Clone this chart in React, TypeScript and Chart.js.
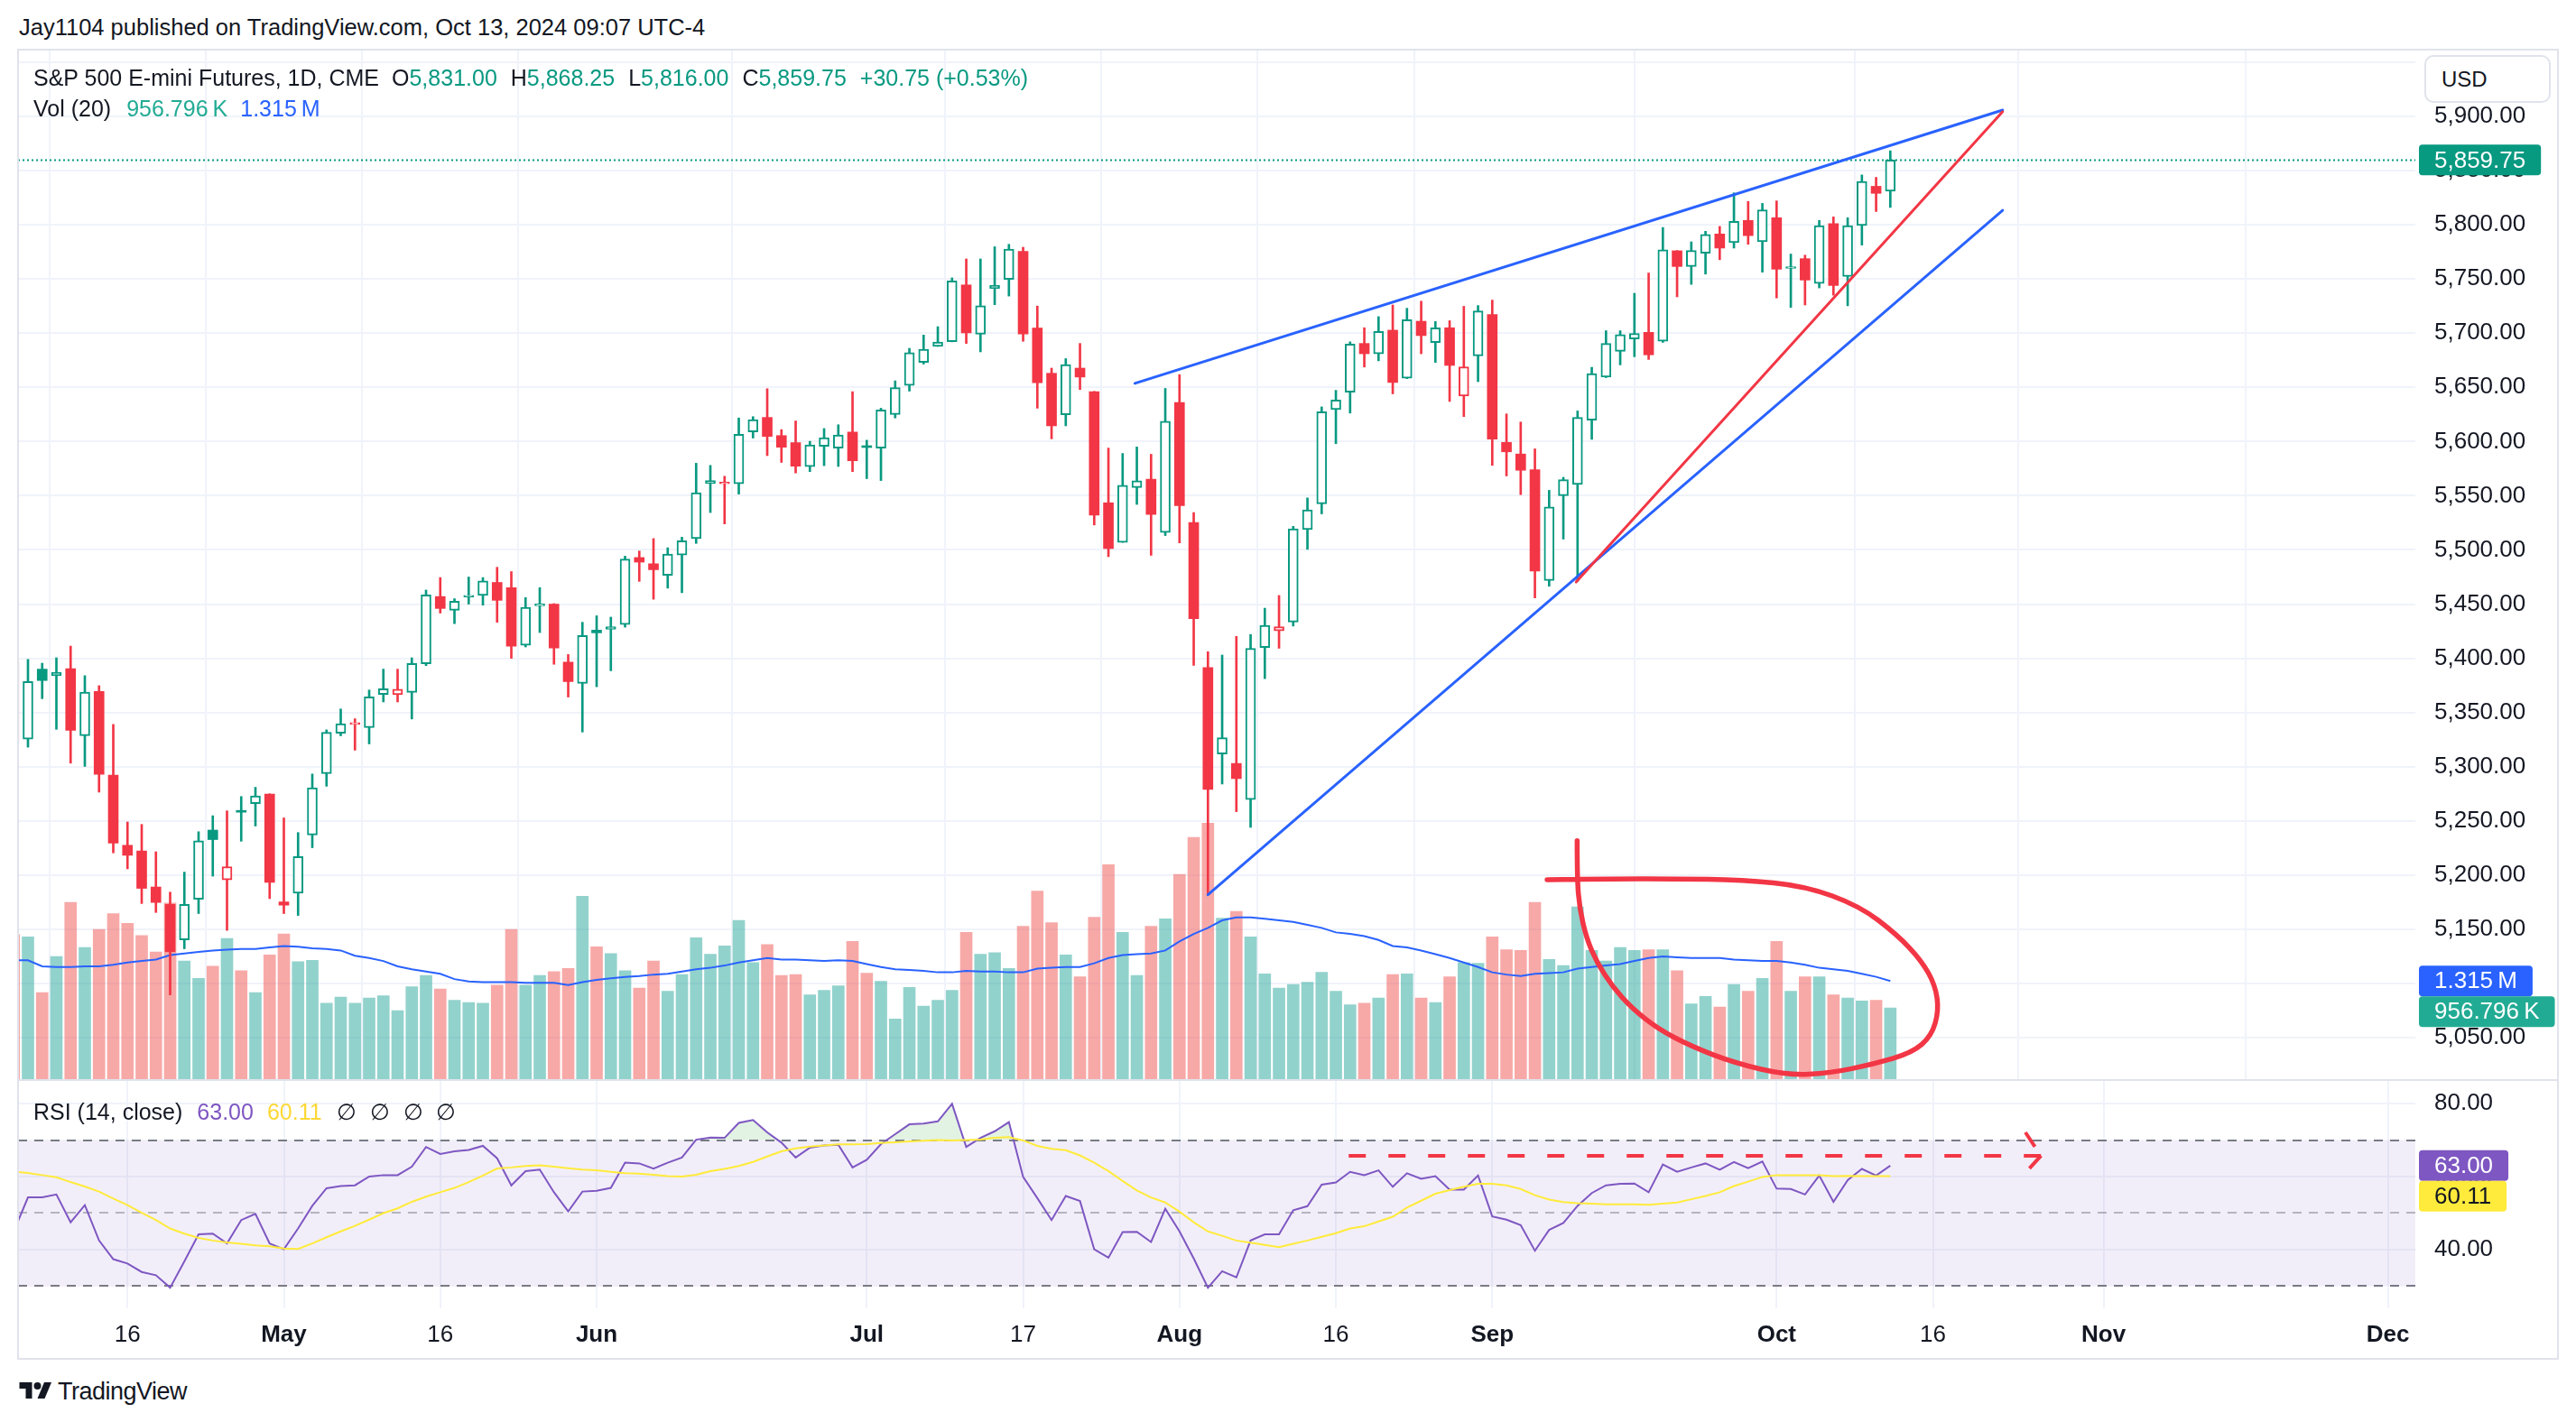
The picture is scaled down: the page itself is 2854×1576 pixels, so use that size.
import React, { useEffect, useRef } from 'react';
import { Chart, registerables } from 'chart.js';

Chart.register(...registerables);

const FONT = "'Liberation Sans', Arial, Helvetica, sans-serif";
const UP = '#089981';
const DOWN = '#F23645';
const TEXT = '#131722';
const GRID = '#F0F3FA';
const FRAME = '#E0E3EB';
const BLUE = '#2962FF';
const VOL_TEAL = '#22AB94';
const RSI_PURPLE = '#7E57C2';
const RSI_YELLOW = '#FFEB3B';

const publishedText = 'Jay1104 published on TradingView.com, Oct 13, 2024 09:07 UTC-4';
const symbolTitle = 'S&P 500 E-mini Futures, 1D, CME';
const volTitle = 'Vol (20)';
const rsiTitle = 'RSI (14, close)';

// ---- data (one entry per daily bar) ----
const dates = [
  '2024-04-04','2024-04-05','2024-04-08','2024-04-09','2024-04-10','2024-04-11','2024-04-12','2024-04-15','2024-04-16','2024-04-17',
  '2024-04-18','2024-04-19','2024-04-22','2024-04-23','2024-04-24','2024-04-25','2024-04-26','2024-04-29','2024-04-30','2024-05-01',
  '2024-05-02','2024-05-03','2024-05-06','2024-05-07','2024-05-08','2024-05-09','2024-05-10','2024-05-13','2024-05-14','2024-05-15',
  '2024-05-16','2024-05-17','2024-05-20','2024-05-21','2024-05-22','2024-05-23','2024-05-24','2024-05-28','2024-05-29','2024-05-30',
  '2024-05-31','2024-06-03','2024-06-04','2024-06-05','2024-06-06','2024-06-07','2024-06-10','2024-06-11','2024-06-12','2024-06-13',
  '2024-06-14','2024-06-17','2024-06-18','2024-06-20','2024-06-21','2024-06-24','2024-06-25','2024-06-26','2024-06-27','2024-06-28',
  '2024-07-01','2024-07-02','2024-07-03','2024-07-05','2024-07-08','2024-07-09','2024-07-10','2024-07-11','2024-07-12','2024-07-15',
  '2024-07-16','2024-07-17','2024-07-18','2024-07-19','2024-07-22','2024-07-23','2024-07-24','2024-07-25','2024-07-26','2024-07-29',
  '2024-07-30','2024-07-31','2024-08-01','2024-08-02','2024-08-05','2024-08-06','2024-08-07','2024-08-08','2024-08-09','2024-08-12',
  '2024-08-13','2024-08-14','2024-08-15','2024-08-16','2024-08-19','2024-08-20','2024-08-21','2024-08-22','2024-08-23','2024-08-26',
  '2024-08-27','2024-08-28','2024-08-29','2024-08-30','2024-09-03','2024-09-04','2024-09-05','2024-09-06','2024-09-09','2024-09-10',
  '2024-09-11','2024-09-12','2024-09-13','2024-09-16','2024-09-17','2024-09-18','2024-09-19','2024-09-20','2024-09-23','2024-09-24',
  '2024-09-25','2024-09-26','2024-09-27','2024-09-30','2024-10-01','2024-10-02','2024-10-03','2024-10-04','2024-10-07','2024-10-08',
  '2024-10-09','2024-10-10','2024-10-11',
];

const open = [
  5397, 5325.5, 5390, 5384, 5390.5, 5328.5, 5369.5, 5292.25, 5227.5, 5222.25,
  5189, 5173, 5140.25, 5177.75, 5241.5, 5195.5, 5259.5, 5266, 5274.75, 5175.25,
  5183.25, 5237, 5293.5, 5330.75, 5339, 5336, 5366.75, 5366.5, 5368.5, 5395,
  5457, 5444.25, 5456.5, 5458, 5470, 5465.25, 5412, 5448.5, 5450, 5396.5,
  5376.75, 5426, 5426.75, 5431.25, 5493, 5487.25, 5476.5, 5495.25, 5510.5, 5561.25,
  5561, 5561, 5609, 5622.25, 5605.5, 5599, 5576.75, 5595.5, 5594, 5608.75,
  5595, 5594, 5625, 5651.75, 5673, 5687.75, 5692.25, 5744.5, 5699, 5741.25,
  5749.5, 5775.5, 5704.75, 5663, 5624.75, 5667.75, 5646, 5543.5, 5507, 5557.5,
  5565.25, 5516, 5636, 5525.25, 5391.5, 5311.75, 5303, 5269.75, 5410, 5425.25,
  5433.5, 5518.75, 5542.5, 5629.5, 5645.5, 5690.5, 5681, 5702.75, 5658.5, 5711,
  5691.25, 5705, 5642, 5679, 5717.25, 5599.25, 5588.5, 5574, 5471.75, 5550,
  5560.5, 5619.75, 5659.5, 5683.25, 5694.75, 5700.75, 5692.5, 5776, 5761.5, 5773.75,
  5791.5, 5783.5, 5804, 5784.25, 5806.5, 5759.75, 5768.75, 5745.75, 5801, 5752.25,
  5799.25, 5835.5, 5831,
];

const high = [
  5405, 5399, 5395.5, 5400.5, 5411.25, 5384, 5374.75, 5339, 5249, 5246.75,
  5221.5, 5184.25, 5202.75, 5240, 5254.75, 5259.25, 5272.5, 5281, 5275, 5252.75,
  5239.25, 5293.25, 5334, 5353.25, 5344.25, 5370.75, 5390, 5390, 5400.5, 5463,
  5474.5, 5455, 5475, 5474.5, 5484, 5480, 5456, 5465.25, 5450.5, 5403.5,
  5433.25, 5439.25, 5438, 5494.25, 5499, 5510.5, 5502, 5511.75, 5580, 5578,
  5568, 5621.75, 5623, 5648.75, 5611, 5619, 5600.25, 5612, 5615.5, 5646,
  5601.25, 5630.75, 5656, 5686, 5698.25, 5706, 5751, 5768.5, 5768.5, 5779.75,
  5782, 5779.25, 5725, 5667.75, 5676.5, 5690.5, 5646.25, 5594, 5589, 5595,
  5588.25, 5649, 5661.75, 5534.5, 5406, 5403, 5420.25, 5422, 5446.25, 5458,
  5521.75, 5548, 5632, 5647.25, 5692, 5705, 5715.25, 5726, 5723, 5729.5,
  5710.75, 5711.5, 5724.75, 5725.5, 5730.5, 5625.5, 5618, 5593.25, 5555, 5567,
  5628.25, 5668.5, 5702.25, 5702.25, 5736.75, 5755.5, 5797.5, 5776.25, 5784.25, 5794,
  5798.5, 5829.5, 5821.5, 5819.75, 5822, 5773, 5772, 5804, 5807.25, 5806.5,
  5846, 5843.75, 5868.25,
];

const low = [
  5318, 5318, 5362.75, 5334.5, 5303.25, 5300.25, 5276.5, 5220.5, 5205.75, 5173.75,
  5165.5, 5089.5, 5132, 5164.5, 5199, 5149, 5231.25, 5245.25, 5178.25, 5164.5,
  5162.75, 5225.25, 5282, 5328.5, 5315.25, 5321, 5359.75, 5359.75, 5344, 5393.25,
  5441.75, 5432, 5450, 5449, 5433.25, 5400, 5410.5, 5423.75, 5394.5, 5364.25,
  5332, 5373.75, 5388.5, 5428.75, 5471, 5454.5, 5464.75, 5460.5, 5506, 5534.5,
  5524, 5551.5, 5603.25, 5587, 5580.75, 5571, 5572.25, 5577.75, 5577, 5572.25,
  5565.75, 5564, 5621.75, 5646.5, 5671.5, 5687.75, 5692, 5690.5, 5682.75, 5726.25,
  5734.25, 5692.5, 5630.75, 5602.5, 5614.5, 5648, 5523, 5493.75, 5507, 5542,
  5495, 5513.25, 5506.5, 5393.5, 5182, 5284, 5258.5, 5244, 5381.25, 5409.25,
  5429.75, 5500.5, 5533.25, 5598, 5626.25, 5668.75, 5674.5, 5644, 5658, 5681,
  5673, 5637, 5623, 5655.25, 5578, 5568.25, 5551, 5455.75, 5466.5, 5510,
  5471, 5602, 5659, 5670.75, 5678.25, 5675.75, 5691.5, 5733.5, 5745, 5754.5,
  5767.75, 5778.5, 5782, 5756.25, 5732.5, 5723.75, 5726, 5741.75, 5735, 5725.25,
  5781.25, 5812.25, 5816,
];

const close = [
  5323, 5378.5, 5379.5, 5387, 5333.5, 5368.75, 5293, 5229.5, 5218.25, 5187.75,
  5174.75, 5129.25, 5173, 5231.75, 5232.75, 5207.75, 5258, 5273, 5193.25, 5172.25,
  5217, 5280.5, 5331.75, 5339.75, 5339.5, 5364.5, 5372, 5371.5, 5395.25, 5458.5,
  5446, 5452.75, 5457.5, 5471.5, 5453.5, 5411.25, 5447, 5449.5, 5409.5, 5378.5,
  5421, 5423.5, 5429.25, 5491.5, 5488.75, 5481.75, 5496.25, 5508.5, 5552.75, 5564,
  5562, 5606.75, 5620.25, 5604.75, 5594.75, 5577.25, 5597, 5603.5, 5606, 5582.25,
  5594.5, 5629.25, 5649.75, 5682, 5685.25, 5691.75, 5748.25, 5700.25, 5725.25, 5744,
  5777.5, 5699.25, 5654.25, 5614.5, 5671, 5659.5, 5532, 5501.25, 5559.75, 5563.75,
  5532.75, 5618.75, 5540.75, 5436.5, 5279, 5326.75, 5289, 5409.25, 5430.5, 5429.25,
  5519.5, 5537, 5627.5, 5638.25, 5690, 5681, 5701.5, 5654.5, 5712.5, 5697.75,
  5705, 5670.25, 5669, 5720.5, 5602.25, 5590.5, 5573.5, 5480.5, 5539.75, 5564.75,
  5622.25, 5662.75, 5690.5, 5698.75, 5699.75, 5680, 5777, 5761.5, 5776.25, 5791,
  5778.5, 5803.25, 5790, 5813.75, 5759, 5761, 5749, 5799.25, 5744, 5799.25,
  5840, 5829, 5859.75,
];

// volume in thousands of contracts
const volumeK = [
  1930, 1900, 1160, 1640, 2360, 1760, 2000, 2210, 2080, 1920,
  1700, 2350, 1580, 1350, 1510, 1880, 1450, 1160, 1660, 1940,
  1570, 1590, 1020, 1100, 1020, 1090, 1120, 920, 1240, 1390,
  1210, 1060, 1030, 1020, 1260, 2000, 1260, 1390, 1440, 1480,
  2440, 1770, 1680, 1450, 1220, 1580, 1180, 1400, 1890, 1670,
  1780, 2120, 1560, 1800, 1390, 1400, 1130, 1190, 1250, 1840,
  1420, 1310, 810, 1230, 980, 1060, 1190, 1960, 1670, 1690,
  1480, 2040, 2510, 2090, 1660, 1370, 2160, 2860, 1960, 1390,
  2040, 2140, 2730, 3220, 3410, 2150, 2240, 1900, 1410, 1220,
  1270, 1300, 1430, 1180, 1000, 1020, 1090, 1400, 1410, 1090,
  1030, 1370, 1560, 1550, 1900, 1730, 1720, 2360, 1600, 1520,
  2300, 1720, 1580, 1760, 1720, 1730, 1730, 1450, 1010, 1110,
  970, 1270, 1180, 1350, 1840, 1180, 1370, 1370, 1130, 1090,
  1050, 1060, 956.796,
];

// 20-day volume moving average (thousands)
const volumeMAK = [
  1590, 1590, 1510, 1500, 1500, 1510, 1510, 1530, 1560, 1580,
  1600, 1660, 1680, 1700, 1720, 1730, 1740, 1740, 1760, 1780,
  1770, 1750, 1740, 1720, 1650, 1620, 1580, 1510, 1470, 1440,
  1410, 1340, 1310, 1300, 1300, 1300, 1290, 1290, 1290, 1260,
  1300, 1330, 1350, 1370, 1380, 1400, 1410, 1440, 1470, 1490,
  1520, 1560, 1590, 1620, 1600, 1600, 1590, 1580, 1590, 1580,
  1540, 1500, 1470, 1460, 1450, 1430, 1430, 1450, 1440, 1440,
  1430, 1430, 1480, 1490, 1500, 1500, 1550, 1620, 1660, 1670,
  1680, 1720, 1840, 1940, 2020, 2120, 2160, 2160, 2140, 2120,
  2100, 2060, 2020, 1960, 1940, 1910, 1860, 1780, 1760, 1720,
  1670, 1620, 1560, 1500, 1430, 1400, 1380, 1410, 1420, 1430,
  1480, 1500, 1520, 1540, 1580, 1620, 1640, 1630, 1620, 1620,
  1620, 1600, 1590, 1580, 1580, 1560, 1530, 1490, 1470, 1450,
  1410, 1370, 1315,
];

const rsi = [
  45.0, 54.3, 54.3, 55.1, 47.5, 52.2, 42.5, 37.4, 36.2, 33.9,
  33.0, 29.6, 36.8, 44.2, 44.4, 41.7, 48.1, 49.8, 41.7, 40.1,
  45.8, 52.0, 56.8, 57.4, 57.6, 60.0, 60.4, 60.4, 62.7, 68.1,
  66.2, 66.9, 67.3, 68.4, 65.0, 57.6, 61.5, 61.9, 55.7, 50.5,
  55.9, 56.1, 56.9, 63.8, 63.6, 62.2, 63.8, 65.2, 70.1, 70.7,
  70.6, 74.7, 75.5, 72.1, 69.3, 65.2, 67.9, 68.5, 68.7, 62.5,
  64.6, 68.9, 71.6, 74.3, 74.5, 75.1, 79.9, 68.1, 70.6, 72.4,
  74.9, 59.9, 54.1, 48.1, 54.7, 53.3, 40.1, 37.8, 44.8, 44.9,
  42.1, 51.2, 45.0, 37.6, 29.6, 34.1, 32.4, 42.5, 44.2, 44.2,
  50.8, 51.9, 57.8, 58.4, 61.3, 60.4, 61.7, 57.2, 60.9, 59.4,
  60.1, 56.4, 56.4, 60.3, 49.1, 48.2, 46.7, 39.7, 45.4, 47.3,
  52.0, 55.5, 57.6, 58.0, 58.1, 55.7, 63.3, 61.3, 62.5, 63.6,
  61.9, 64.0, 62.3, 64.1, 56.7, 56.6, 55.1, 60.3, 53.1, 59.0,
  62.1, 60.3, 63.0,
];

const rsiMA = [
  61.3, 61.0, 60.4, 59.8, 58.5, 57.3, 55.9, 54.0, 52.2, 50.1,
  48.1, 45.8, 44.4, 43.2, 42.5, 42.0, 41.6, 41.2, 40.9, 40.3,
  40.2, 41.7, 43.4, 45.0, 46.5, 48.2, 50.0, 51.3, 53.1, 54.5,
  55.7, 56.9, 58.5, 60.3, 62.2, 62.5, 62.9, 63.1, 62.7, 62.3,
  61.9, 61.7, 61.3, 60.9, 60.8, 60.5, 60.1, 60.0, 60.5, 61.5,
  62.1, 62.9, 64.0, 65.5, 66.9, 67.7, 68.2, 68.5, 68.8, 68.8,
  68.9, 69.2, 69.4, 69.6, 69.8, 70.0, 69.9, 70.0, 70.1, 70.6,
  70.8, 69.9, 68.4, 67.6, 67.2, 65.8, 63.8, 61.5, 58.8, 56.2,
  54.3, 52.9, 50.4, 47.5, 45.0, 43.8, 42.5, 41.9, 41.3, 40.7,
  41.6, 42.5, 43.5, 44.5, 45.8, 46.4, 47.7, 49.0, 51.5, 53.4,
  55.3, 56.3, 57.2, 58.0, 58.0, 57.6, 56.6, 54.9, 53.7, 53.0,
  52.7, 52.6, 52.4, 52.4, 52.4, 52.3, 52.6, 52.9, 53.8, 54.7,
  55.7, 57.4, 58.6, 59.9, 60.4, 60.4, 60.4, 60.4, 60.1, 60.2,
  60.1, 60.1, 60.11,
];

// ---- axis ticks ----
const xTickBars = [8, 19, 30, 41, 60, 71, 82, 93, 104, 124, 135, 147, 167];
const xTickLabels = ['16', 'May', '16', 'Jun', 'Jul', '17', 'Aug', '16', 'Sep', 'Oct', '16', 'Nov', 'Dec'];
const monthLabels = ['May', 'Jun', 'Jul', 'Aug', 'Sep', 'Oct', 'Nov', 'Dec'];
const priceTicks = [5050, 5100, 5150, 5200, 5250, 5300, 5350, 5400, 5450, 5500, 5550, 5600, 5650, 5700, 5750, 5800, 5850, 5900, 5950];
const rsiTicks = [40, 60, 80];
const rsiLevels = [70, 50, 30];

// ---- user drawings, in (bar slot, value) coordinates ----
const upperBlueLine = [[78.86, 5653.7], [139.9, 5905.8]];
const lowerBlueLine = [[84.0, 5181.8], [139.9, 5813.4]];
const redTrendLine = [[109.9, 5470.4], [139.9, 5904.3]];
const freehandLoop = [
  [109.97, 5231.8], [109.97, 5197.1], [110.14, 5169.3], [110.63, 5141.6], [111.36, 5119.4],
  [112.45, 5097.2], [113.79, 5077.7], [115.62, 5058.3], [118.04, 5041.7], [121.08, 5026.5],
  [124.73, 5015.3], [127.77, 5017.3], [130.8, 5025.6], [133.54, 5036.1], [134.9, 5051.7],
  [135.41, 5075.0], [135.16, 5098.3], [134.21, 5120.8], [132.49, 5144.9], [129.83, 5171.6],
  [126.02, 5189.9], [121.57, 5195.7], [116.81, 5196.5], [112.37, 5196.5], [107.86, 5195.7],
];
const rsiArrowLine = [[93.9, 65.7], [142.6, 65.7]];
const rsiArrowHeadTop = [[141.5, 72.1], [142.6, 65.7]];
const rsiArrowHeadBottom = [[142.6, 65.7], [141.5, 61.0]];

// ---- view ranges ----
const X_MIN = 0.302;
const X_MAX = 168.93;
const PRICE_MIN = 5010.9;
const PRICE_MAX = 5961.6;
const VOL_MAX_K = 13680;
const RSI_MIN = 23.95;
const RSI_MAX = 86.42;
const AXIS_W = 158;

const slots = close.map((_, k) => k);
const fmt2 = (v: number) => v.toLocaleString('en-US', { minimumFractionDigits: 2, maximumFractionDigits: 2 });
const fmtVol = (k: number) => (k >= 1000 ? `${(k / 1000).toFixed(3)}\u2009M` : `${k.toFixed(3)}\u2009K`);

const candleColor = slots.map((k) => (close[k] >= (k > 0 ? close[k - 1] : open[k]) ? UP : DOWN));
const hollow = slots.map((k) => close[k] > open[k]);
const volColor = slots.map((k) => (close[k] >= open[k] ? 'rgba(38,166,154,0.5)' : 'rgba(239,83,80,0.5)'));

function zeroPad(s: any) {
  s.paddingTop = 0; s.paddingBottom = 0; s.paddingLeft = 0; s.paddingRight = 0;
}

function rr(ctx: CanvasRenderingContext2D, x: number, y: number, w: number, h: number, r: number) {
  ctx.beginPath();
  ctx.moveTo(x + r, y);
  ctx.arcTo(x + w, y, x + w, y + h, r);
  ctx.arcTo(x + w, y + h, x, y + h, r);
  ctx.arcTo(x, y + h, x, y, r);
  ctx.arcTo(x, y, x + w, y, r);
  ctx.closePath();
}

function drawBadges(ctx: CanvasRenderingContext2D, xLeft: number, items: any[]) {
  const H = 34;
  const sorted = [...items].sort((a, b) => a.y - b.y);
  let prevBottom = -Infinity;
  ctx.save();
  ctx.font = `26px ${FONT}`;
  ctx.textBaseline = 'middle';
  ctx.textAlign = 'left';
  for (const it of sorted) {
    let cy = it.y;
    if (cy - H / 2 < prevBottom) cy = prevBottom + H / 2;
    const w = ctx.measureText(it.text).width + 34;
    ctx.fillStyle = it.bg;
    rr(ctx, xLeft, cy - H / 2, w, H, 4);
    ctx.fill();
    ctx.fillStyle = it.fg;
    ctx.fillText(it.text, xLeft + 17, cy + 1);
    prevBottom = cy + H / 2;
  }
  ctx.restore();
}

function strokePolyline(ctx: CanvasRenderingContext2D, chart: any, pts: number[][], yId: string) {
  const x = chart.scales.x;
  const y = chart.scales[yId];
  ctx.beginPath();
  pts.forEach((p, i) => {
    const px = x.getPixelForValue(p[0]);
    const py = y.getPixelForValue(p[1]);
    if (i === 0) ctx.moveTo(px, py); else ctx.lineTo(px, py);
  });
  ctx.stroke();
}

const mainOverlay = {
  id: 'mainOverlay',
  afterDatasetsDraw(chart: any) {
    const { ctx, chartArea: a, scales } = chart;
    const x = scales.x;
    const y = scales.y;
    ctx.save();
    ctx.beginPath();
    ctx.rect(a.left, a.top, a.right - a.left, a.bottom - a.top);
    ctx.clip();
    // last price line
    const py = Math.round(y.getPixelForValue(close[close.length - 1])) + 0.5;
    ctx.strokeStyle = UP;
    ctx.lineWidth = 2;
    ctx.setLineDash([2, 3]);
    ctx.beginPath();
    ctx.moveTo(a.left, py);
    ctx.lineTo(a.right, py);
    ctx.stroke();
    ctx.setLineDash([]);
    // trend lines
    ctx.lineCap = 'round';
    ctx.lineWidth = 3;
    ctx.strokeStyle = BLUE;
    strokePolyline(ctx, chart, upperBlueLine, 'y');
    strokePolyline(ctx, chart, lowerBlueLine, 'y');
    ctx.strokeStyle = DOWN;
    strokePolyline(ctx, chart, redTrendLine, 'y');
    // freehand loop
    ctx.lineWidth = 5.5;
    ctx.lineJoin = 'round';
    const pts = freehandLoop.map((p) => [x.getPixelForValue(p[0]), y.getPixelForValue(p[1])]);
    ctx.beginPath();
    ctx.moveTo(pts[0][0], pts[0][1]);
    for (let i = 1; i < pts.length - 1; i++) {
      const mx = (pts[i][0] + pts[i + 1][0]) / 2;
      const my = (pts[i][1] + pts[i + 1][1]) / 2;
      ctx.quadraticCurveTo(pts[i][0], pts[i][1], mx, my);
    }
    ctx.lineTo(pts[pts.length - 1][0], pts[pts.length - 1][1]);
    ctx.stroke();
    ctx.restore();
  },
  afterDraw(chart: any) {
    const { ctx, chartArea: a, scales } = chart;
    const last = close.length - 1;
    drawBadges(ctx, a.right + 4, [
      { y: scales.y.getPixelForValue(close[last]), text: fmt2(close[last]), bg: UP, fg: '#ffffff' },
    ]);
    drawBadges(ctx, a.right + 4, [
      { y: scales.vol.getPixelForValue(volumeMAK[last]), text: fmtVol(volumeMAK[last]), bg: BLUE, fg: '#ffffff' },
      { y: scales.vol.getPixelForValue(volumeK[last]), text: fmtVol(volumeK[last]), bg: VOL_TEAL, fg: '#ffffff' },
    ]);
  },
};

const rsiOverlay = {
  id: 'rsiOverlay',
  beforeDatasetsDraw(chart: any) {
    const { ctx, chartArea: a, scales } = chart;
    const y = scales.y;
    const yTop = y.getPixelForValue(rsiLevels[0]);
    const yBot = y.getPixelForValue(rsiLevels[2]);
    ctx.save();
    ctx.fillStyle = 'rgba(126,87,194,0.1)';
    ctx.fillRect(a.left, yTop, a.right - a.left, yBot - yTop);
    ctx.lineWidth = 2;
    ctx.setLineDash([10, 8]);
    rsiLevels.forEach((lv, idx) => {
      const py = Math.round(y.getPixelForValue(lv));
      ctx.strokeStyle = idx === 1 ? 'rgba(120,123,134,0.5)' : '#787B86';
      ctx.beginPath();
      ctx.moveTo(a.left, py);
      ctx.lineTo(a.right, py);
      ctx.stroke();
    });
    ctx.restore();
  },
  afterDatasetsDraw(chart: any) {
    const { ctx } = chart;
    ctx.save();
    ctx.strokeStyle = DOWN;
    ctx.lineWidth = 4;
    ctx.setLineDash([19, 25]);
    strokePolyline(ctx, chart, rsiArrowLine, 'y');
    strokePolyline(ctx, chart, rsiArrowHeadTop, 'y');
    strokePolyline(ctx, chart, rsiArrowHeadBottom, 'y');
    ctx.restore();
  },
  afterDraw(chart: any) {
    const { ctx, chartArea: a, scales } = chart;
    const last = rsi.length - 1;
    drawBadges(ctx, a.right + 4, [
      { y: scales.y.getPixelForValue(rsi[last]), text: rsi[last].toFixed(2), bg: RSI_PURPLE, fg: '#ffffff' },
      { y: scales.y.getPixelForValue(rsiMA[last]), text: rsiMA[last].toFixed(2), bg: RSI_YELLOW, fg: TEXT },
    ]);
  },
};

function xScale(showLabels: boolean) {
  return {
    type: 'linear',
    min: X_MIN,
    max: X_MAX,
    offset: false,
    grid: { color: GRID, lineWidth: 2, drawTicks: false },
    border: { display: false },
    ticks: {
      display: showLabels,
      autoSkip: false,
      maxRotation: 0,
      padding: 14,
      color: TEXT,
      font: (c: any) => ({ size: 26, family: FONT, weight: monthLabels.includes(xTickLabels[c.index]) ? 'bold' : 'normal' }),
      callback: (_v: any, i: number) => xTickLabels[i],
    },
    afterBuildTicks: (s: any) => { s.ticks = xTickBars.map((v) => ({ value: v })); },
    afterFit: (s: any) => { s.height = showLabels ? 56 : 0; zeroPad(s); },
  };
}

function mainConfig() {
  return {
    type: 'bar',
    data: {
      datasets: [
        {
          type: 'bar', label: 'Volume', yAxisID: 'vol', order: 10, grouped: false,
          data: slots.map((k) => ({ x: k, y: volumeK[k] })),
          backgroundColor: volColor, barThickness: 13, borderWidth: 0,
        },
        {
          type: 'line', label: 'Volume MA', yAxisID: 'vol', order: 9,
          data: slots.map((k) => ({ x: k, y: volumeMAK[k] })),
          borderColor: BLUE, borderWidth: 2, pointRadius: 0, tension: 0, fill: false,
        },
        {
          type: 'bar', label: 'Wicks', yAxisID: 'y', order: 8, grouped: false,
          data: slots.map((k) => ({ x: k, y: [low[k], high[k]] })),
          backgroundColor: candleColor, barThickness: 2, borderWidth: 0,
        },
        {
          type: 'bar', label: 'Bodies', yAxisID: 'y', order: 7, grouped: false,
          data: slots.map((k) => ({ x: k, y: [Math.min(open[k], close[k]), Math.max(open[k], close[k])] })),
          backgroundColor: slots.map((k) => (hollow[k] ? '#ffffff' : candleColor[k])),
          borderColor: candleColor,
          borderWidth: slots.map((k) => (hollow[k] ? 2 : 0)),
          borderSkipped: false,
          barThickness: 11,
          minBarLength: 2,
        },
      ],
    },
    options: {
      animation: false,
      responsive: false,
      maintainAspectRatio: false,
      devicePixelRatio: 1,
      layout: { padding: 0 },
      plugins: { legend: { display: false }, tooltip: { enabled: false } },
      scales: {
        x: xScale(false),
        y: {
          position: 'right',
          min: PRICE_MIN,
          max: PRICE_MAX,
          grid: { color: GRID, lineWidth: 2, drawTicks: false },
          border: { display: false },
          ticks: {
            padding: 21, color: TEXT, autoSkip: false, font: { size: 26, family: FONT },
            callback: (v: number) => (v === priceTicks[priceTicks.length - 1] ? '' : fmt2(v)),
          },
          afterBuildTicks: (s: any) => { s.ticks = priceTicks.map((v) => ({ value: v })); },
          afterFit: (s: any) => { s.width = AXIS_W; zeroPad(s); },
        },
        vol: { display: false, position: 'left', min: 0, max: VOL_MAX_K },
      },
    },
    plugins: [mainOverlay],
  };
}

function rsiConfig() {
  return {
    type: 'line',
    data: {
      datasets: [
        {
          label: 'RSI', order: 2,
          data: slots.map((k) => ({ x: k, y: rsi[k] })),
          borderColor: RSI_PURPLE, borderWidth: 2, pointRadius: 0, tension: 0,
          fill: { target: { value: rsiLevels[0] }, above: 'rgba(76,175,80,0.16)', below: 'rgba(0,0,0,0)' },
        },
        {
          label: 'RSI oversold', order: 3,
          data: slots.map((k) => ({ x: k, y: rsi[k] })),
          borderWidth: 0, borderColor: 'rgba(0,0,0,0)', pointRadius: 0, tension: 0,
          fill: { target: { value: rsiLevels[2] }, above: 'rgba(0,0,0,0)', below: 'rgba(242,54,69,0.16)' },
        },
        {
          label: 'RSI MA', order: 1,
          data: slots.map((k) => ({ x: k, y: rsiMA[k] })),
          borderColor: RSI_YELLOW, borderWidth: 2, pointRadius: 0, tension: 0, fill: false,
        },
      ],
    },
    options: {
      animation: false,
      responsive: false,
      maintainAspectRatio: false,
      devicePixelRatio: 1,
      layout: { padding: 0 },
      plugins: { legend: { display: false }, tooltip: { enabled: false } },
      scales: {
        x: xScale(true),
        y: {
          position: 'right',
          min: RSI_MIN,
          max: RSI_MAX,
          grid: { color: GRID, lineWidth: 2, drawTicks: false },
          border: { display: false },
          ticks: { padding: 21, color: TEXT, autoSkip: false, font: { size: 26, family: FONT }, callback: (v: number) => v.toFixed(2) },
          afterBuildTicks: (s: any) => { s.ticks = rsiTicks.map((v) => ({ value: v })); },
          afterFit: (s: any) => { s.width = AXIS_W; zeroPad(s); },
        },
      },
    },
    plugins: [rsiOverlay],
  };
}

const abs = (l: number, t: number, extra: any = {}) => ({ position: 'absolute' as const, left: l, top: t, ...extra });

export default function App() {
  const mainRef = useRef<HTMLCanvasElement | null>(null);
  const rsiRef = useRef<HTMLCanvasElement | null>(null);

  useEffect(() => {
    Chart.defaults.font.family = FONT;
    Chart.defaults.color = TEXT;
    const c1 = new Chart(mainRef.current as HTMLCanvasElement, mainConfig() as any);
    const c2 = new Chart(rsiRef.current as HTMLCanvasElement, rsiConfig() as any);
    return () => { c1.destroy(); c2.destroy(); };
  }, []);

  const last = close.length - 1;
  const chg = close[last] - close[last - 1];
  const pct = (chg / close[last - 1]) * 100;
  const sign = chg >= 0 ? '+' : '\u2212';
  const valColor = chg >= 0 ? UP : DOWN;
  const txt = { fontSize: 25, lineHeight: '30px', height: 30, color: TEXT, whiteSpace: 'nowrap' as const };

  return (
    <div style={{ position: 'absolute', left: 0, top: 0, width: 2854, height: 1576, background: '#ffffff', overflow: 'hidden', fontFamily: FONT }}>
      <div style={abs(21, 15, { ...txt, fontSize: 25.5 })}>{publishedText}</div>

      <canvas ref={mainRef} width={2814} height={1142} style={abs(20, 55, { width: 2814, height: 1142 })} />
      <canvas ref={rsiRef} width={2814} height={309} style={abs(20, 1197, { width: 2814, height: 309 })} />

      <div style={abs(19, 54, { width: 2816, height: 1453, border: `2px solid ${FRAME}`, boxSizing: 'border-box', pointerEvents: 'none' })} />
      <div style={abs(20, 1196, { width: 2814, height: 2, background: FRAME })} />

      <div style={abs(2686, 61, { width: 140, height: 53, border: `2px solid ${FRAME}`, borderRadius: 10, boxSizing: 'border-box', background: '#ffffff', fontSize: 24, lineHeight: '49px', paddingLeft: 17, color: TEXT })}>USD</div>

      <div style={abs(37, 71, txt)}>
        <span>{symbolTitle}</span>
        <span style={{ marginLeft: 14 }}>O</span><span style={{ color: valColor }}>{fmt2(open[last])}</span>
        <span style={{ marginLeft: 15 }}>H</span><span style={{ color: valColor }}>{fmt2(high[last])}</span>
        <span style={{ marginLeft: 15 }}>L</span><span style={{ color: valColor }}>{fmt2(low[last])}</span>
        <span style={{ marginLeft: 15 }}>C</span><span style={{ color: valColor }}>{fmt2(close[last])}</span>
        <span style={{ marginLeft: 15, color: valColor }}>{`${sign}${Math.abs(chg).toFixed(2)} (${sign}${Math.abs(pct).toFixed(2)}%)`}</span>
      </div>
      <div style={abs(37, 105, txt)}>
        <span>{volTitle}</span>
        <span style={{ marginLeft: 17, color: VOL_TEAL }}>{fmtVol(volumeK[last])}</span>
        <span style={{ marginLeft: 14, color: BLUE }}>{fmtVol(volumeMAK[last])}</span>
      </div>

      <div style={abs(37, 1217, txt)}>
        <span>{rsiTitle}</span>
        <span style={{ marginLeft: 16, color: RSI_PURPLE }}>{rsi[last].toFixed(2)}</span>
        <span style={{ marginLeft: 15, color: '#FDD835' }}>{rsiMA[last].toFixed(2)}</span>
        <span style={{ marginLeft: 16, letterSpacing: 4 }}>{'\u2205 \u2205 \u2205 \u2205'}</span>
      </div>

      <div style={abs(21, 1527, { display: 'flex', alignItems: 'center', height: 30 })}>
        <svg width="37" height="28" viewBox="0 0 36 28">
          <path d="M14 22H7V11H0V4h14v18z" fill={TEXT} />
          <circle cx="20" cy="8" r="4" fill={TEXT} />
          <path d="M28 22h-8l7.5-18h8L28 22z" fill={TEXT} />
        </svg>
        <span style={{ marginLeft: 6, fontSize: 27, color: TEXT, letterSpacing: -0.5 }}>TradingView</span>
      </div>
    </div>
  );
}
